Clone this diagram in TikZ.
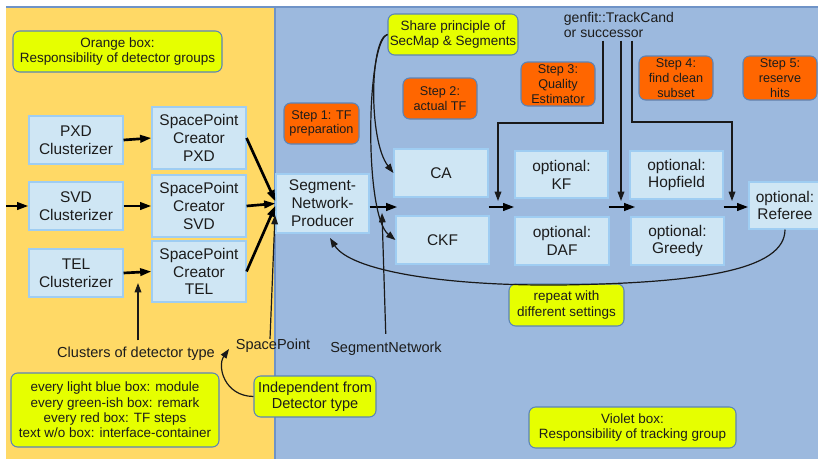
\documentclass[tikz,border=0pt]{standalone}
\usepackage{fontspec}
\setmainfont{Liberation Sans}
\usetikzlibrary{arrows.meta,calc}

\definecolor{orangebg}{HTML}{FFD966}
\definecolor{bluebg}{HTML}{9CB9DE}
\definecolor{regionedge}{HTML}{6F93C7}
\definecolor{modfill}{HTML}{CFE6F4}
\definecolor{modedge}{HTML}{9FCDF2}
\definecolor{remfill}{HTML}{E6FF00}
\definecolor{remedge}{HTML}{5B84B8}
\definecolor{stepfill}{HTML}{FF6600}
\definecolor{ink}{HTML}{1C1C1C}

\begin{document}
\begin{tikzpicture}[x=0.75pt,y=-0.75pt,
  size/.style 2 args={minimum width=#1*0.75pt, minimum height=#2*0.75pt},
  module/.style={draw=modedge, fill=modfill, line width=0.8pt, inner sep=0pt,
    align=center, text=ink, font=\fontsize{11.6}{13.4}\selectfont},
  remark/.style={draw=remedge, fill=remfill, rounded corners=5pt, line width=0.8pt,
    inner sep=0pt, align=center, text=ink, font=\fontsize{10.1}{11.6}\selectfont},
  tfstep/.style={draw=remedge, fill=stepfill, rounded corners=5pt, line width=0.8pt,
    inner sep=0pt, align=center, text=ink, font=\fontsize{9.5}{11}\selectfont},
  iface/.style={inner sep=0pt, text=ink, font=\fontsize{10.9}{12.5}\selectfont},
  flow/.style={draw=black, line width=2pt, -{Triangle[length=8.5pt,width=5.5pt]}},
  feed/.style={draw=black!90, line width=0.9pt, -{Triangle[length=7pt,width=5pt]}},
]
\useasboundingbox (0,0) rectangle (818,458);
\fill[white] (0,0) rectangle (818,458);

% the two areas of responsibility
\fill[orangebg] (6,7) rectangle (275,462);
\draw[regionedge, line width=0.8pt] (6,7) -- (275,7);
\filldraw[fill=bluebg, draw=regionedge, line width=0.9pt] (275,7) rectangle (824,464);

% remarks
\node[remark, size={209}{41}] (orangenote) at (117.5,51.5) {Orange box:\\Responsibility of detector groups};
\node[remark, size={130}{41}] (share) at (453,34.5) {Share principle of\\SecMap \& Segments};
\node[remark, size={115}{42}] (repeat) at (566.5,305) {repeat with\\different settings};
\node[remark, size={208}{74}, font=\fontsize{10.1}{11.5}\selectfont] (legend) at (115,410)
  {every light blue box: module\\every green-ish box: remark\\every red box: TF steps\\text w/o box: interface-container};
\node[remark, size={122}{41}, font=\fontsize{10.9}{12}\selectfont] (indep) at (315,396.5) {Independent from\\Detector type};
\node[remark, size={207}{41}] (violet) at (632.5,427.5) {Violet box:\\Responsibility of tracking group};

% track finding steps
\node[tfstep, size={75}{41}] (s1) at (321.5,123.5) {Step 1: TF\\preparation};
\node[tfstep, size={74}{41}] (s2) at (440,98.5) {Step 2:\\actual TF};
\node[tfstep, size={74}{44}] (s3) at (558,84) {Step 3:\\Quality\\Estimator};
\node[tfstep, size={74}{44}] (s4) at (676,78) {Step 4:\\find clean\\subset};
\node[tfstep, size={74}{44}] (s5) at (780,78) {Step 5:\\reserve\\hits};

% modules
\node[module, size={94}{48}] (pxd) at (76,140) {PXD\\Clusterizer};
\node[module, size={94}{48}] (svd) at (76,206) {SVD\\Clusterizer};
\node[module, size={94}{48}] (tel) at (76,273) {TEL\\Clusterizer};
\node[module, size={94}{62}] (pxdsp) at (199,138) {SpacePoint\\Creator\\PXD};
\node[module, size={94}{62}] (svdsp) at (199,206) {SpacePoint\\Creator\\SVD};
\node[module, size={94}{61}] (telsp) at (199,271.5) {SpacePoint\\Creator\\TEL};
\node[module, size={93}{59}] (snp) at (322.5,203.5) {Segment-\\Network-\\Producer};
\node[module, size={94}{48}] (ca) at (441,173) {CA};
\node[module, size={93}{48}] (ckf) at (442.5,240) {CKF};
\node[module, size={93}{47}] (kf) at (561.5,174.5) {optional:\\KF};
\node[module, size={94}{48}] (daf) at (562,241) {optional:\\DAF};
\node[module, size={93}{48}] (hop) at (676.5,175) {optional:\\Hopfield};
\node[module, size={93}{48}] (greedy) at (677.5,241) {optional:\\Greedy};
\node[module, size={72}{47}] (ref) at (785,205.5) {optional:\\Referee};

% interface containers
\node[iface] (clus) at (136,354) {Clusters of detector type};
\node[iface] (sptxt) at (273,346) {SpacePoint};
\node[iface] (sntxt) at (386,349) {SegmentNetwork};
\node[iface, align=left, anchor=west, inner sep=2pt, font=\fontsize{10.5}{11.4}\selectfont] (genfit) at (561,25) {genfit::TrackCand\\or successor};

% helper positions
\coordinate (input) at (6,206);
\coordinate (mid) at (0,207);
\coordinate (tip) at (0,201);
\coordinate (g1) at (603,0);
\coordinate (g2) at (621,0);
\coordinate (g3) at (632,0);
\coordinate (bend1) at (498,123);
\coordinate (bend3) at (732,122);
\coordinate (cx) at (138,0);
\coordinate (cluend) at (138,283);
\coordinate (spx) at (270,0);
\coordinate (spend) at (275,215);
\coordinate (snend) at (382,213);
\coordinate (indend) at (229,349);
\coordinate (repend) at (330,238);

% detector chain
\draw[flow] (input) -- (svd.west);
\draw[flow] (pxd.east) -- (pxdsp.west);
\draw[flow] (svd.east) -- (svdsp.west);
\draw[flow] (tel.east) -- (telsp.west);
\draw[flow] (pxdsp.east) -- ([yshift=1.5pt]snp.west);
\draw[flow] (svdsp.east) -- (snp.west);
\draw[flow] (telsp.east) -- ([yshift=-1.5pt]snp.west);

% tracking chain
\draw[flow] (snp.east |- mid) -- ++(28,0);
\draw[flow] (ca.east |- mid) -- (kf.west |- mid);
\draw[flow] (kf.east |- mid) -- ++(27,0);
\draw[flow] (hop.east |- mid) -- (ref.west |- mid);

% output containers
\draw[feed] (genfit.south -| g1) |- (bend1) -- (bend1 |- tip);
\draw[feed] (genfit.south -| g2) -- (g2 |- tip);
\draw[feed] (genfit.south -| g3) |- (bend3) -- (bend3 |- tip);

% shared principle
\draw[feed] (share.west) .. controls (370,38) and (368,140) .. (ca.west);
\draw[feed] (share.west) .. controls (366,42) and (364,215) .. (ckf.west);

% inputs from containers
\draw[feed, shorten <=5pt] (clus.north -| cx) -- (cluend);
\draw[feed] (sptxt.north -| spx) -- (spend);
\draw[feed, shorten <=6pt] (sntxt.north) -- (snend);
\draw[feed] (indep.west) .. controls (224,396) and (217,366) .. (indend);

% repetition loop
\draw[feed] (ref.south) .. controls (785,270) and (700,283) .. (560,285)
  .. controls (440,286) and (350,270) .. (repend);
\end{tikzpicture}
\end{document}
